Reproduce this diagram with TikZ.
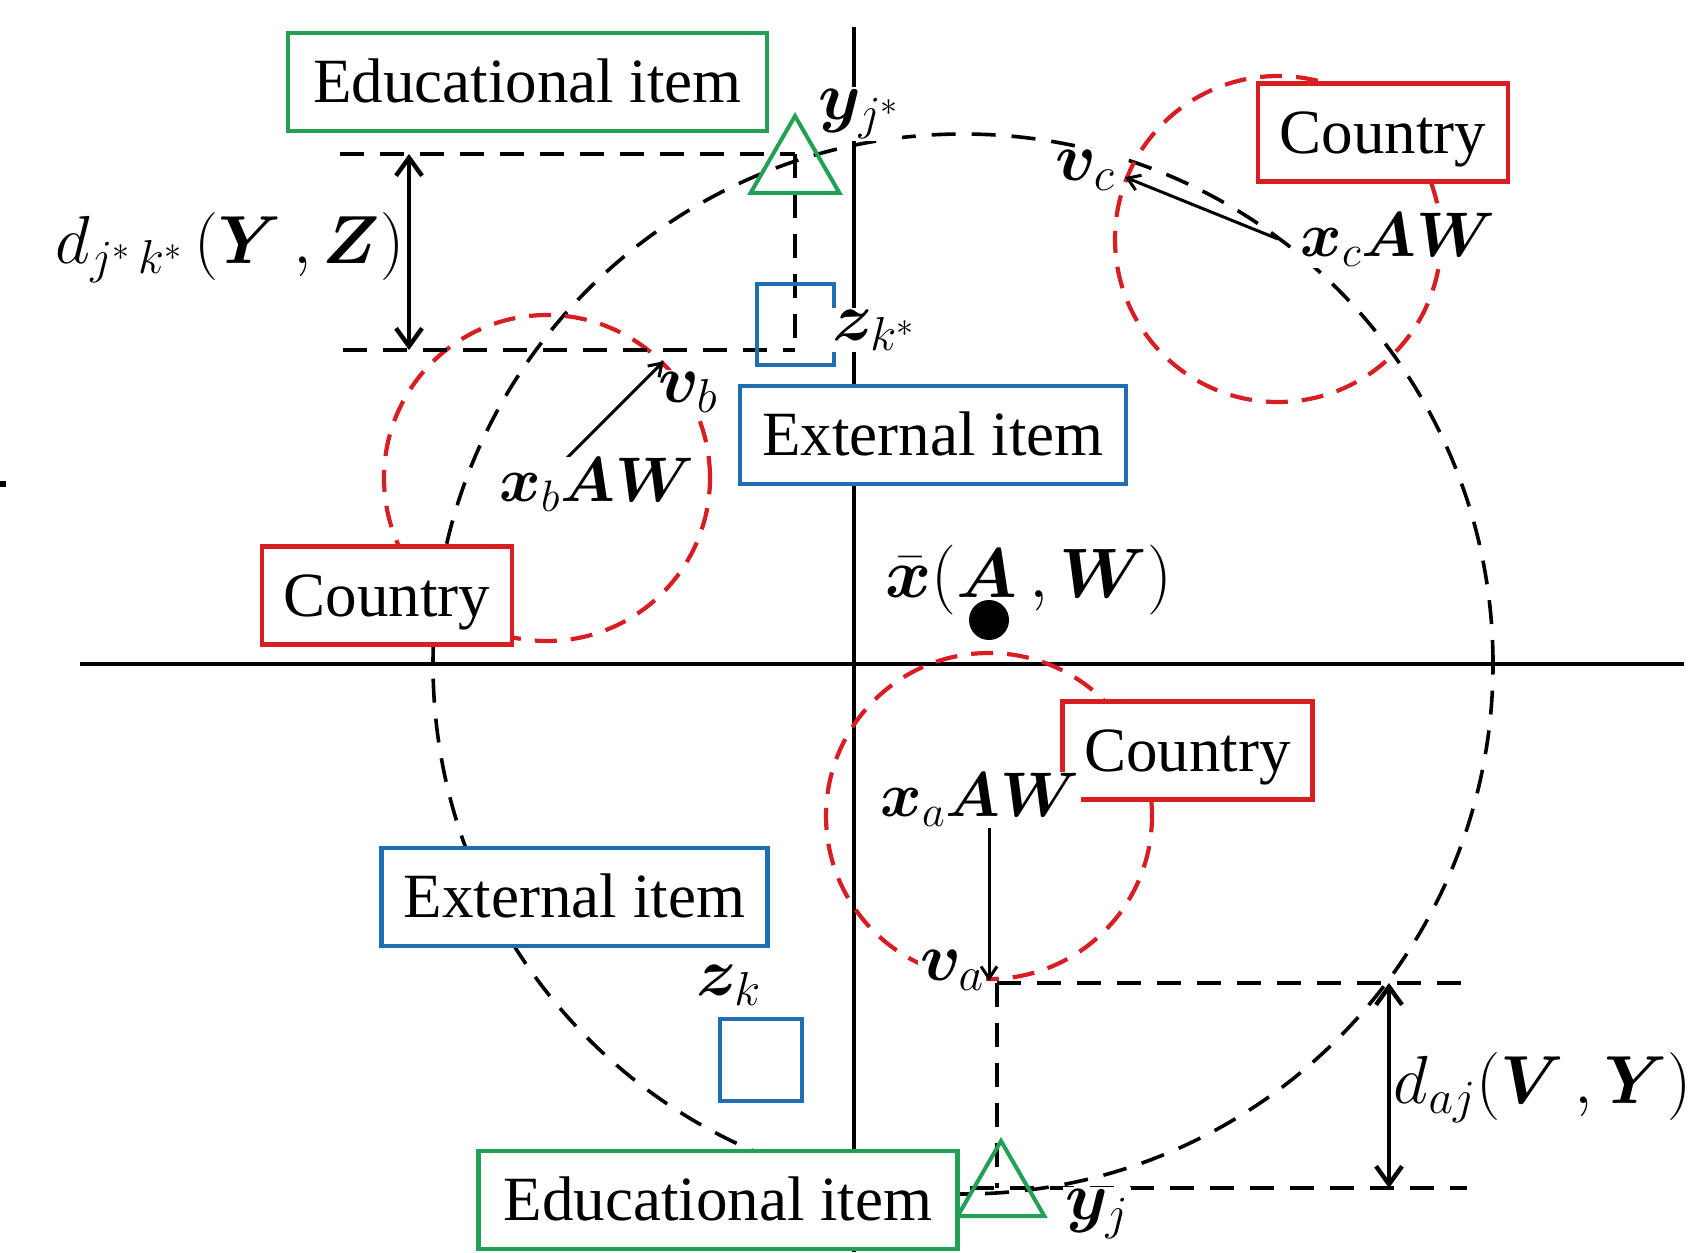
\RequirePackage{fix-cm}
\documentclass[tikz,border=0pt]{standalone}
\usepackage{amsmath}
\usepackage{bm}
\usepackage[no-math]{fontspec}
\setmainfont{Liberation Serif}
\usetikzlibrary{arrows.meta,shapes.geometric}
\definecolor{cgreen}{RGB}{35,160,85}
\definecolor{cblue}{RGB}{30,110,180}
\definecolor{cred}{RGB}{215,30,35}
\tikzset{
  box/.style={draw, line width=2.2pt, fill=white, inner sep=0pt, text height=20.8pt, text depth=0pt, minimum height=49pt},
  edubox/.style={box, draw=cgreen, minimum width=239.5pt},
  extbox/.style={box, draw=cblue, minimum width=193pt},
  ctrybox/.style={box, draw=cred, minimum width=125pt},
  lbl/.style={fill=white, inner sep=1pt},
  mlbl/.style={lbl, font=\fontsize{34}{40}\selectfont},
  dlbl/.style={inner sep=1pt, font=\fontsize{34}{40}\selectfont},
  axisline/.style={line width=1.8pt},
  bigc/.style={draw, circle, inner sep=0pt, minimum size=530pt, line width=1.8pt, dash pattern=on 12pt off 8pt},
  redc/.style={draw=cred, circle, inner sep=0pt, minimum size=163pt, line width=2.1pt, dash pattern=on 11pt off 7pt},
  guide/.style={line width=1.8pt, dash pattern=on 12pt off 8pt},
  dimarrow/.style={line width=2.2pt, {Straight Barb[length=9pt,width=13pt]}-{Straight Barb[length=9pt,width=13pt]}},
  maparrow/.style={line width=1.5pt, -{Straight Barb[length=6pt,width=8pt]}},
  tri/.style={draw=cgreen, line width=2pt, regular polygon, regular polygon sides=3, inner sep=0pt, outer sep=0pt},
  sq/.style={draw=cblue, line width=2.2pt, inner sep=0pt}
}
\begin{document}
\begin{tikzpicture}[x=0.5pt, y=-0.5pt, font=\fontsize{31.5}{38}\selectfont]
\useasboundingbox (0,0) rectangle (1706,1252);
% tiny mark at left edge
\fill (0,481) rectangle (6,487);
% axes
\coordinate (hl) at (80,664);
\coordinate (hr) at (1684,664);
\coordinate (vt) at (854,27);
\coordinate (vb) at (854,1252);
\draw[axisline] (hl) -- (hr);
\draw[axisline] (vt) -- (vb);
% big dashed circle
\node[bigc] (big) at (963,664) {};
% red circles
\node[redc] (circB) at (547,478) {};
\node[redc] (circC) at (1278,239) {};
\node[redc] (circA) at (989,816) {};
% guide lines top
\coordinate (ga) at (340,154);
\coordinate (gb) at (795,154);
\coordinate (gc) at (795,350);
\coordinate (gd) at (343,350);
\draw[guide] (ga) -- (gb);
\draw[guide] (gb) -- (gc);
\draw[guide] (gd) -- (gc);
\coordinate (da1) at (409,154);
\coordinate (da2) at (409,350);
% guide lines bottom
\coordinate (ha) at (997,983);
\coordinate (hb) at (1467,983);
\coordinate (hc) at (997,1188);
\coordinate (hd) at (970,1188);
\coordinate (he) at (1467,1188);
\draw[guide] (ha) -- (hb);
\draw[guide] (ha) -- (hc);
\draw[guide] (hd) -- (he);
\coordinate (db1) at (1389,983);
\coordinate (db2) at (1389,1188);
% triangles and squares
\node[tri, minimum size=51.3pt] (triTop) at (795,167.3) {};
\node[tri, minimum size=50pt] (triBot) at (1001,1191) {};
\node[sq, minimum width=38.5pt, minimum height=40.5pt] (sqTop) at (795.5,324.5) {};
\node[sq, minimum width=41pt, minimum height=41pt] (sqBot) at (761,1060) {};
% boxes
\node[edubox] (eduTop) at (527.5,82) {Educational item};
\node[edubox] (eduBot) at (718,1200) {Educational item};
\node[extbox] (extTop) at (933,435) {External item};
\node[extbox] (extBot) at (574.5,897) {External item};
\node[ctrybox] (ctryB) at (387,595.5) {Country};
\node[ctrybox] (ctryC) at (1383,132.5) {Country};
\node[ctrybox] (ctryA) at (1187.5,750.5) {Country};
% labels
\node[mlbl] (yjsL) at (859,114) {$\bm{y}_{j^*}$};
\node[mlbl] (zksL) at (874,330) {$\bm{z}_{k^*}$};
\node[mlbl] (vbL) at (688,392) {$\bm{v}_b$};
\node[mlbl] (vcL) at (1085,170) {$\bm{v}_c$};
\node[mlbl] (vaL) at (952,970) {$\bm{v}_a$};
\node[mlbl] (zkL) at (729,985) {$\bm{z}_k$};
\node[mlbl] (yjL) at (1097,1214) {$\bm{y}_j$};
\node[lbl, font=\fontsize{35}{42}\selectfont] (xbarL) at (1029,580) {$\bar{\bm{x}}(\bm{A}\,,\bm{W})$};
\node[dlbl] (dtop) at (230,248) {$d_{j^*\,k^*}\,(\bm{Y}\,,\bm{Z})$};
\node[dlbl] (dbot) at (1543,1088) {$d_{aj}(\bm{V}\,,\bm{Y})$};
% dimension arrows
\draw[dimarrow] (da1) -- (da2);
\draw[dimarrow] (db1) -- (db2);
% mapping arrows
\draw[maparrow] (circB.center) -- (circB.45);
\draw[maparrow] (circC.center) -- (circC.158);
\draw[maparrow] (circA.center) -- (circA.south);
% x labels over arrow starts
\node[lbl] (xbL) at (597,485) {$\bm{x}_b\bm{A}\bm{W}$};
\node[lbl] (xcL) at (1398,240) {$\bm{x}_c\bm{A}\bm{W}$};
\node[lbl] (xaL) at (980,800) {$\bm{x}_a\bm{A}\bm{W}$};
% centroid dot
\node[circle, fill=black, inner sep=0pt, minimum size=20pt] (dot) at (989,620) {};
\end{tikzpicture}
\end{document}
